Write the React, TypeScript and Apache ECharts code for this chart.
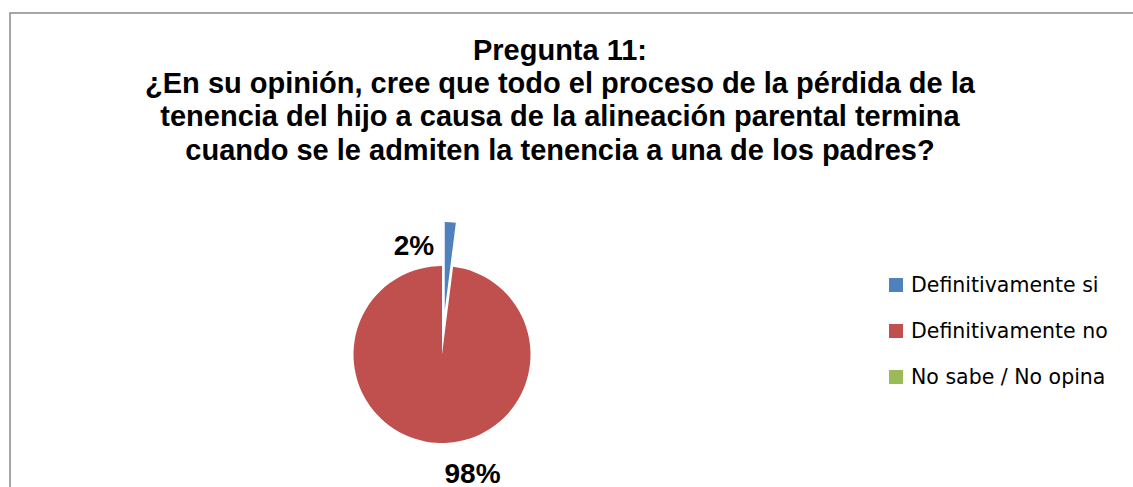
import React, { useEffect, useRef } from 'react';
import * as echarts from 'echarts';

const categories = ['Definitivamente si', 'Definitivamente no', 'No sabe / No opina'];
const values = [2, 98, 0];
const colors = ['#4F81BD', '#C0504D', '#9BBB59'];
const titleLines = [
  'Pregunta 11:',
  '¿En su opinión, cree que todo el proceso de la pérdida de la',
  'tenencia del hijo a causa de la alineación parental termina',
  'cuando se le admiten la tenencia a una de los padres?',
];

export default function App() {
  const ref = useRef<HTMLDivElement>(null);
  useEffect(() => {
    const chart = echarts.init(ref.current!, null, { renderer: 'svg' });
    const CX = 442;
    const CY = 354.5;
    const R = 88.5;
    const labelOffsets = [
      [-28, -109.5],
      [30.5, 119],
      [0, 0],
    ];
    const font = '"Liberation Sans", Arial, sans-serif';
    chart.setOption({
      animation: false,
      backgroundColor: '#ffffff',
      title: {
        text: titleLines.join('\n'),
        left: 560,
        top: 33,
        textAlign: 'center',
        padding: 0,
        textStyle: {
          fontFamily: font,
          fontWeight: 'bold',
          fontSize: 29,
          lineHeight: 33.3,
          color: '#000000',
        },
      },
      legend: {
        orient: 'vertical',
        left: 889,
        top: 273,
        padding: 0,
        itemWidth: 14,
        itemHeight: 14,
        itemGap: 22,
        icon: 'rect',
        selectedMode: false,
        data: categories.map((name, i) => ({ name, itemStyle: { color: colors[i], opacity: 1 } })),
        textStyle: {
          fontFamily: '"DejaVu Sans", sans-serif',
          fontSize: 20.5,
          lineHeight: 24,
          color: '#000000',
          padding: [0, 0, 0, 3],
        },
      },
      graphic: [
        {
          type: 'rect',
          silent: true,
          z: -10,
          shape: { x: 10, y: 13, width: 1140, height: 520 },
          style: { fill: 'none', stroke: '#8a8a8a', lineWidth: 1.5 },
        },
      ],
      series: [
        {
          type: 'pie',
          center: [CX, CY],
          radius: R,
          startAngle: 90,
          clockwise: true,
          selectedMode: 'single',
          selectedOffset: 44,
          emphasis: { disabled: true },
          itemStyle: { borderWidth: 0 },
          label: { show: false },
          labelLine: { show: false },
          data: categories.map((name, i) => ({
            name,
            value: values[i],
            selected: i === 0,
            itemStyle: { color: colors[i] },
          })),
        },
        {
          type: 'pie',
          center: [CX, CY],
          radius: R,
          startAngle: 90,
          clockwise: true,
          silent: true,
          selectedMode: false,
          emphasis: { disabled: true },
          z: 3,
          itemStyle: { color: 'rgba(255,255,255,0)', borderWidth: 0 },
          label: {
            show: true,
            formatter: '{d}%',
            fontFamily: font,
            fontWeight: 'bold',
            fontSize: 28,
            color: '#000000',
            opacity: 1,
          },
          labelLine: { show: false },
          labelLayout: (p: any) => ({
            x: CX + labelOffsets[p.dataIndex][0],
            y: CY + labelOffsets[p.dataIndex][1],
            align: 'center',
            verticalAlign: 'middle',
          }),
          data: categories.map((name, i) => ({
            name,
            value: values[i],
            label: { show: values[i] > 0 },
          })),
        },
      ],
    });
    return () => chart.dispose();
  }, []);
  return (
    <div
      ref={ref}
      style={{ position: 'fixed', left: 0, top: 0, width: 1133, height: 487 }}
    />
  );
}
